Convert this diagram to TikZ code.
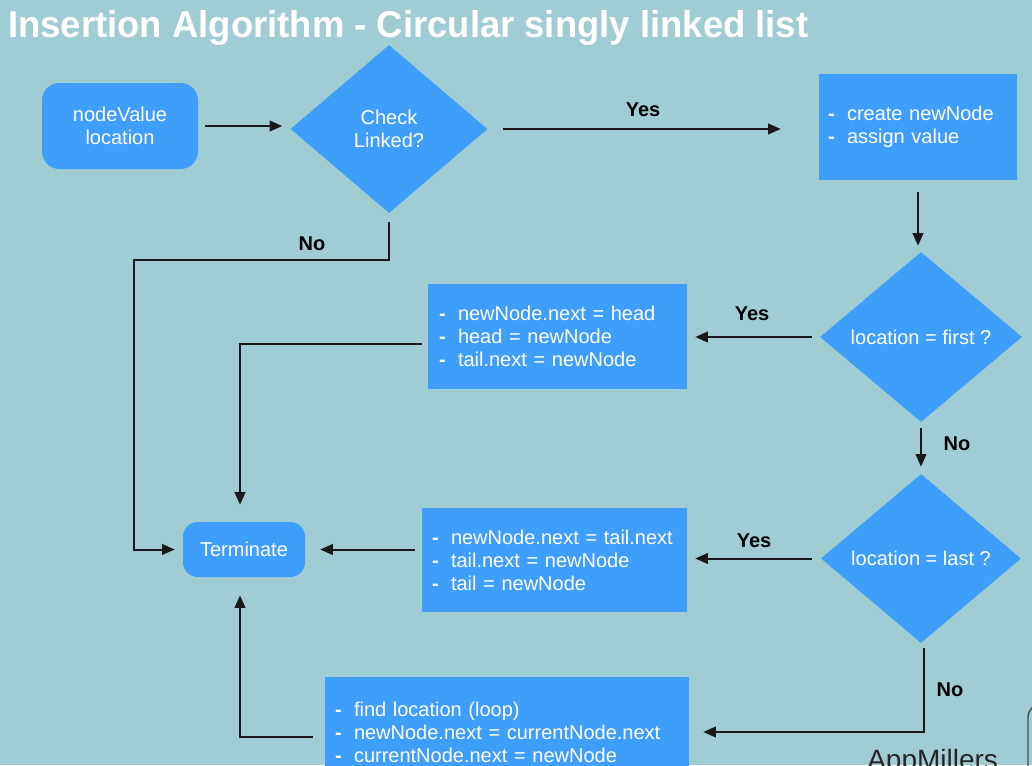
\documentclass[tikz,border=0pt]{standalone}
\usepackage{fontspec}
\usepackage{graphicx}
\usetikzlibrary{arrows.meta,shapes.geometric}
\newfontfamily\lsans{Liberation Sans}
\definecolor{bgteal}{RGB}{160,205,211}
\definecolor{myblue}{RGB}{62,158,250}
\newcommand{\boxfont}{\lsans\fontsize{15}{17.25}\selectfont}
\newcommand{\itm}[1]{\makebox[14.25pt][l]{\textbf{-}}#1}
\tikzset{
  conn/.style={line width=1.5pt, draw=black!90, -{Triangle[length=9.5pt,width=8pt]}},
  stepbox/.style={rectangle, fill=myblue, text=white, font=\boxfont, align=left, inner ysep=0pt},
  roundbox/.style={rectangle, rounded corners=12pt, fill=myblue, text=white, font=\boxfont, align=center},
  decision/.style={diamond, fill=myblue, text=white, font=\boxfont, align=center, inner sep=0pt},
  lbl/.style={font=\lsans\bfseries\fontsize{15}{17}\selectfont, text=black, inner sep=0pt},
}
\begin{document}
\begin{tikzpicture}[x=0.75pt,y=-0.75pt]
\useasboundingbox (0,0) rectangle (1032,765);
\clip (0,0) rectangle (1032,765);
\fill[bgteal] (0,0) rectangle (1032,765);

% title
\node[anchor=base west, inner sep=0pt, text=white, font=\lsans\bfseries\fontsize{28}{32}\selectfont] (title) at (8,37)
  {\resizebox{600pt}{\height}{Insertion Algorithm - Circular singly linked list}};

% nodes
\node[roundbox, minimum width=117pt, minimum height=64.5pt, rounded corners=13pt] (start) at (120,126) {nodeValue\\location};
\node[decision, minimum width=147.75pt, minimum height=126pt] (check) at (389,129) {Check\\Linked?};
\node[stepbox, text width=135pt, inner xsep=6.75pt, minimum height=79.5pt] (box1) at (918,127)
  {\itm{create newNode}\\\itm{assign value}};
\node[decision, minimum width=151.5pt, minimum height=127.5pt] (d2) at (921,337) {location = first ?};
\node[stepbox, text width=177.75pt, inner xsep=8.25pt, minimum height=78.75pt] (box2) at (557.5,336.5)
  {\itm{newNode.next = head}\\\itm{head = newNode}\\\itm{tail.next = newNode}};
\node[decision, minimum width=150pt, minimum height=126.75pt] (d3) at (921,558.5) {location = last ?};
\node[stepbox, text width=183.75pt, inner xsep=7.5pt, minimum height=78pt] (box3) at (554.5,560)
  {\itm{newNode.next = tail.next}\\\itm{tail.next = newNode}\\\itm{tail = newNode}};
\node[roundbox, minimum width=91.5pt, minimum height=41.25pt, rounded corners=11pt] (term) at (244,549.5) {Terminate};
\node[stepbox, text width=258pt, inner xsep=7.5pt, minimum height=82.5pt] (box4) at (507,732)
  {\itm{find location (loop)}\\\itm{newNode.next = currentNode.next}\\\itm{currentNode.next = newNode}};

% labels
\node[lbl] (yes1) at (643,110) {Yes};
\node[lbl] (no1) at (312,244) {No};
\node[lbl] (yes2) at (752,314) {Yes};
\node[lbl] (no2) at (957,444) {No};
\node[lbl] (yes3) at (754,541) {Yes};
\node[lbl] (no3) at (950,690) {No};

% connectors
\draw[conn, shorten <=5.25pt, shorten >=6pt] (start.east) -- (check.west |- start.east);
\draw[conn, shorten <=11.25pt, shorten >=28.5pt] (check.east) -- (check.east -| box1.west);
\draw[conn, shorten <=9pt, shorten >=4.5pt] (box1.south) -- (box1.south |- d2.north);
\draw[conn, shorten <=6pt, shorten >=6pt] (d2.west) -- (d2.west -| box2.east);
\draw[conn, shorten <=4.5pt, shorten >=5.25pt] (d2.south) -- (d3.north);
\draw[conn, shorten <=6.75pt, shorten >=6pt] (d3.west) -- (d3.west -| box3.east);
\draw[conn, shorten <=5.25pt, shorten >=11.25pt] (box3.west |- term.east) -- (term.east);
\draw[conn, shorten >=12.75pt] ([shift={(-6,7.5)}]box2.west) -| ([xshift=-3pt]term.north);
\coordinate (nbend) at (134,260);
\draw[conn, shorten <=6.75pt, shorten >=6pt] (check.south) |- (nbend) |- (term.west);
\draw[conn, shorten >=13.5pt] ([shift={(-12,5)}]box4.west) -| ([xshift=-3pt]term.south);
\draw[conn, shorten <=3.75pt, shorten >=10.5pt] ([xshift=2pt]d3.south) |- (box4.east);

% watermark
\node[anchor=base west, inner sep=0pt, text=black!85, font=\lsans\fontsize{21}{24}\selectfont] (brand) at (867,769) {AppMillers};
\draw[line width=1.1pt, black!70, rounded corners=10pt] (1028,800) -- (1028,704) -- (1060,704);
\end{tikzpicture}
\end{document}
